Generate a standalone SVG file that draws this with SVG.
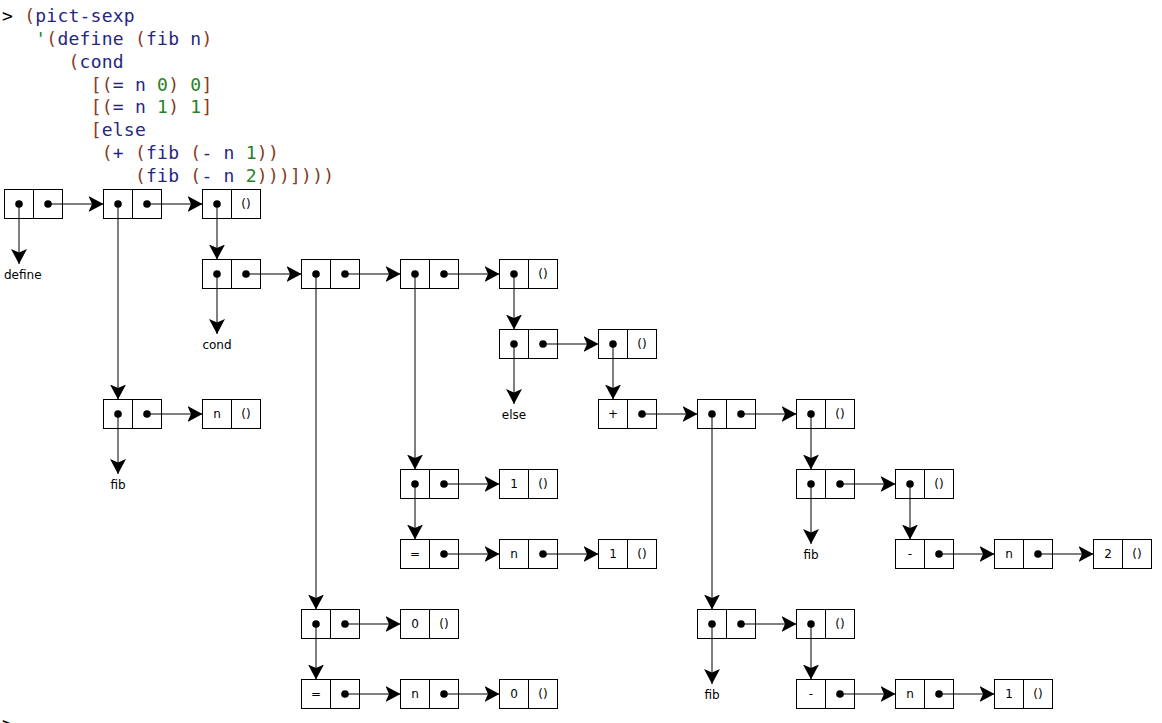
<svg xmlns="http://www.w3.org/2000/svg" width="1162" height="723" viewBox="0 0 1162 723">
<style>
.code{font-family:"DejaVu Sans Mono",monospace;font-size:18px;letter-spacing:0.24px;white-space:pre}
.k{fill:#000}.p{fill:#843c24}.s{fill:#262680}.c{fill:#298026}
.box{fill:#fff;stroke:#000;stroke-width:1}
.div{stroke:#000;stroke-width:1}
.dot{fill:#000}
.bt{font-family:"DejaVu Sans",sans-serif;font-size:12px;text-anchor:middle;fill:#000}
.lbl{font-family:"DejaVu Sans",sans-serif;font-size:12px;fill:#000}
#connectors line{stroke:#000;stroke-width:1;fill:none;marker-end:url(#ah)}
</style>
<defs>
<marker id="ah" viewBox="-15 -8 15 16" refX="0" refY="0" markerWidth="15" markerHeight="16" markerUnits="userSpaceOnUse" orient="auto">
<path d="M0,0 L-15,-8 L-11.5,0 L-15,8 Z" fill="#000"/>
</marker>
<g id="pair"><rect class="box" x="0" y="0" width="58" height="29"/><line class="div" x1="29" y1="0" x2="29" y2="29"/></g>
</defs>
<rect width="1162" height="723" fill="#fff"/>
<g id="code" class="code">
<text x="2" y="22"><tspan class="k">&gt; </tspan><tspan class="p">(</tspan><tspan class="s">pict-sexp</tspan></text>
<text x="35.24" y="44.85"><tspan class="c">'</tspan><tspan class="p">(</tspan><tspan class="s">define</tspan> <tspan class="p">(</tspan><tspan class="s">fib</tspan> <tspan class="s">n</tspan><tspan class="p">)</tspan></text>
<text x="68.5" y="67.7"><tspan class="p">(</tspan><tspan class="s">cond</tspan></text>
<text x="90.64" y="90.55"><tspan class="p">[(</tspan><tspan class="s">=</tspan> <tspan class="s">n</tspan> <tspan class="c">0</tspan><tspan class="p">)</tspan> <tspan class="c">0</tspan><tspan class="p">]</tspan></text>
<text x="90.64" y="113.4"><tspan class="p">[(</tspan><tspan class="s">=</tspan> <tspan class="s">n</tspan> <tspan class="c">1</tspan><tspan class="p">)</tspan> <tspan class="c">1</tspan><tspan class="p">]</tspan></text>
<text x="90.64" y="136.25"><tspan class="p">[</tspan><tspan class="s">else</tspan></text>
<text x="101.72" y="159.1"><tspan class="p">(</tspan><tspan class="s">+</tspan> <tspan class="p">(</tspan><tspan class="s">fib</tspan> <tspan class="p">(</tspan><tspan class="s">-</tspan> <tspan class="s">n</tspan> <tspan class="c">1</tspan><tspan class="p">))</tspan></text>
<text x="134.96" y="181.95"><tspan class="p">(</tspan><tspan class="s">fib</tspan> <tspan class="p">(</tspan><tspan class="s">-</tspan> <tspan class="s">n</tspan> <tspan class="c">2</tspan><tspan class="p">)))])))</tspan></text>
<text x="2" y="730"><tspan class="k">&gt;</tspan></text>
</g>
<g id="nodes">
<g id="n0"><use href="#pair" x="4.5" y="189.5"/><circle class="dot" cx="19" cy="204" r="3.8"/><circle class="dot" cx="48" cy="204" r="3.8"/></g>
<g id="n1"><use href="#pair" x="103.5" y="189.5"/><circle class="dot" cx="118" cy="204" r="3.8"/><circle class="dot" cx="147" cy="204" r="3.8"/></g>
<g id="n2"><use href="#pair" x="202.5" y="189.5"/><circle class="dot" cx="217" cy="204" r="3.8"/><text class="bt" x="246" y="208">()</text></g>
<g id="l-define"><text class="lbl" x="4" y="279">define</text></g>
<g id="n3"><use href="#pair" x="202.5" y="259.5"/><circle class="dot" cx="217" cy="274" r="3.8"/><circle class="dot" cx="246" cy="274" r="3.8"/></g>
<g id="n4"><use href="#pair" x="301.5" y="259.5"/><circle class="dot" cx="316" cy="274" r="3.8"/><circle class="dot" cx="345" cy="274" r="3.8"/></g>
<g id="n5"><use href="#pair" x="400.5" y="259.5"/><circle class="dot" cx="415" cy="274" r="3.8"/><circle class="dot" cx="444" cy="274" r="3.8"/></g>
<g id="n6"><use href="#pair" x="499.5" y="259.5"/><circle class="dot" cx="514" cy="274" r="3.8"/><text class="bt" x="543" y="278">()</text></g>
<g id="l-cond"><text class="lbl" x="217" y="349" text-anchor="middle">cond</text></g>
<g id="n7"><use href="#pair" x="499.5" y="329.5"/><circle class="dot" cx="514" cy="344" r="3.8"/><circle class="dot" cx="543" cy="344" r="3.8"/></g>
<g id="n8"><use href="#pair" x="598.5" y="329.5"/><circle class="dot" cx="613" cy="344" r="3.8"/><text class="bt" x="642" y="348">()</text></g>
<g id="l-else"><text class="lbl" x="514" y="419" text-anchor="middle">else</text></g>
<g id="n9"><use href="#pair" x="103.5" y="399.5"/><circle class="dot" cx="118" cy="414" r="3.8"/><circle class="dot" cx="147" cy="414" r="3.8"/></g>
<g id="n10"><use href="#pair" x="202.5" y="399.5"/><text class="bt" x="217" y="418">n</text><text class="bt" x="246" y="418">()</text></g>
<g id="n11"><use href="#pair" x="598.5" y="399.5"/><text class="bt" x="613" y="418">+</text><circle class="dot" cx="642" cy="414" r="3.8"/></g>
<g id="n12"><use href="#pair" x="697.5" y="399.5"/><circle class="dot" cx="712" cy="414" r="3.8"/><circle class="dot" cx="741" cy="414" r="3.8"/></g>
<g id="n13"><use href="#pair" x="796.5" y="399.5"/><circle class="dot" cx="811" cy="414" r="3.8"/><text class="bt" x="840" y="418">()</text></g>
<g id="l-fib1"><text class="lbl" x="118" y="489" text-anchor="middle">fib</text></g>
<g id="n14"><use href="#pair" x="400.5" y="469.5"/><circle class="dot" cx="415" cy="484" r="3.8"/><circle class="dot" cx="444" cy="484" r="3.8"/></g>
<g id="n15"><use href="#pair" x="499.5" y="469.5"/><text class="bt" x="514" y="488">1</text><text class="bt" x="543" y="488">()</text></g>
<g id="n16"><use href="#pair" x="796.5" y="469.5"/><circle class="dot" cx="811" cy="484" r="3.8"/><circle class="dot" cx="840" cy="484" r="3.8"/></g>
<g id="n17"><use href="#pair" x="895.5" y="469.5"/><circle class="dot" cx="910" cy="484" r="3.8"/><text class="bt" x="939" y="488">()</text></g>
<g id="n18"><use href="#pair" x="400.5" y="539.5"/><text class="bt" x="415" y="558">=</text><circle class="dot" cx="444" cy="554" r="3.8"/></g>
<g id="n19"><use href="#pair" x="499.5" y="539.5"/><text class="bt" x="514" y="558">n</text><circle class="dot" cx="543" cy="554" r="3.8"/></g>
<g id="n20"><use href="#pair" x="598.5" y="539.5"/><text class="bt" x="613" y="558">1</text><text class="bt" x="642" y="558">()</text></g>
<g id="l-fib2"><text class="lbl" x="811" y="559" text-anchor="middle">fib</text></g>
<g id="n21"><use href="#pair" x="895.5" y="539.5"/><text class="bt" x="910" y="558">-</text><circle class="dot" cx="939" cy="554" r="3.8"/></g>
<g id="n22"><use href="#pair" x="994.5" y="539.5"/><text class="bt" x="1009" y="558">n</text><circle class="dot" cx="1038" cy="554" r="3.8"/></g>
<g id="n23"><use href="#pair" x="1093.5" y="539.5"/><text class="bt" x="1108" y="558">2</text><text class="bt" x="1137" y="558">()</text></g>
<g id="n24"><use href="#pair" x="301.5" y="609.5"/><circle class="dot" cx="316" cy="624" r="3.8"/><circle class="dot" cx="345" cy="624" r="3.8"/></g>
<g id="n25"><use href="#pair" x="400.5" y="609.5"/><text class="bt" x="415" y="628">0</text><text class="bt" x="444" y="628">()</text></g>
<g id="n26"><use href="#pair" x="697.5" y="609.5"/><circle class="dot" cx="712" cy="624" r="3.8"/><circle class="dot" cx="741" cy="624" r="3.8"/></g>
<g id="n27"><use href="#pair" x="796.5" y="609.5"/><circle class="dot" cx="811" cy="624" r="3.8"/><text class="bt" x="840" y="628">()</text></g>
<g id="n28"><use href="#pair" x="301.5" y="679.5"/><text class="bt" x="316" y="698">=</text><circle class="dot" cx="345" cy="694" r="3.8"/></g>
<g id="n29"><use href="#pair" x="400.5" y="679.5"/><text class="bt" x="415" y="698">n</text><circle class="dot" cx="444" cy="694" r="3.8"/></g>
<g id="n30"><use href="#pair" x="499.5" y="679.5"/><text class="bt" x="514" y="698">0</text><text class="bt" x="543" y="698">()</text></g>
<g id="l-fib3"><text class="lbl" x="712" y="699" text-anchor="middle">fib</text></g>
<g id="n31"><use href="#pair" x="796.5" y="679.5"/><text class="bt" x="811" y="698">-</text><circle class="dot" cx="840" cy="694" r="3.8"/></g>
<g id="n32"><use href="#pair" x="895.5" y="679.5"/><text class="bt" x="910" y="698">n</text><circle class="dot" cx="939" cy="694" r="3.8"/></g>
<g id="n33"><use href="#pair" x="994.5" y="679.5"/><text class="bt" x="1009" y="698">1</text><text class="bt" x="1038" y="698">()</text></g>
</g>
<g id="connectors">
<line x1="48" y1="204" x2="103.5" y2="204"/>
<line x1="147" y1="204" x2="202.5" y2="204"/>
<line x1="246" y1="274" x2="301.5" y2="274"/>
<line x1="345" y1="274" x2="400.5" y2="274"/>
<line x1="444" y1="274" x2="499.5" y2="274"/>
<line x1="543" y1="344" x2="598.5" y2="344"/>
<line x1="147" y1="414" x2="202.5" y2="414"/>
<line x1="642" y1="414" x2="697.5" y2="414"/>
<line x1="741" y1="414" x2="796.5" y2="414"/>
<line x1="444" y1="484" x2="499.5" y2="484"/>
<line x1="840" y1="484" x2="895.5" y2="484"/>
<line x1="444" y1="554" x2="499.5" y2="554"/>
<line x1="543" y1="554" x2="598.5" y2="554"/>
<line x1="939" y1="554" x2="994.5" y2="554"/>
<line x1="1038" y1="554" x2="1093.5" y2="554"/>
<line x1="345" y1="624" x2="400.5" y2="624"/>
<line x1="741" y1="624" x2="796.5" y2="624"/>
<line x1="345" y1="694" x2="400.5" y2="694"/>
<line x1="444" y1="694" x2="499.5" y2="694"/>
<line x1="840" y1="694" x2="895.5" y2="694"/>
<line x1="939" y1="694" x2="994.5" y2="694"/>
<line x1="19" y1="204" x2="19" y2="264"/>
<line x1="118" y1="204" x2="118" y2="399.5"/>
<line x1="217" y1="204" x2="217" y2="259.5"/>
<line x1="217" y1="274" x2="217" y2="334"/>
<line x1="316" y1="274" x2="316" y2="609.5"/>
<line x1="415" y1="274" x2="415" y2="469.5"/>
<line x1="514" y1="274" x2="514" y2="329.5"/>
<line x1="514" y1="344" x2="514" y2="404"/>
<line x1="613" y1="344" x2="613" y2="399.5"/>
<line x1="118" y1="414" x2="118" y2="474"/>
<line x1="712" y1="414" x2="712" y2="609.5"/>
<line x1="811" y1="414" x2="811" y2="469.5"/>
<line x1="415" y1="484" x2="415" y2="539.5"/>
<line x1="811" y1="484" x2="811" y2="544"/>
<line x1="910" y1="484" x2="910" y2="539.5"/>
<line x1="316" y1="624" x2="316" y2="679.5"/>
<line x1="712" y1="624" x2="712" y2="684"/>
<line x1="811" y1="624" x2="811" y2="679.5"/>
</g>
</svg>
